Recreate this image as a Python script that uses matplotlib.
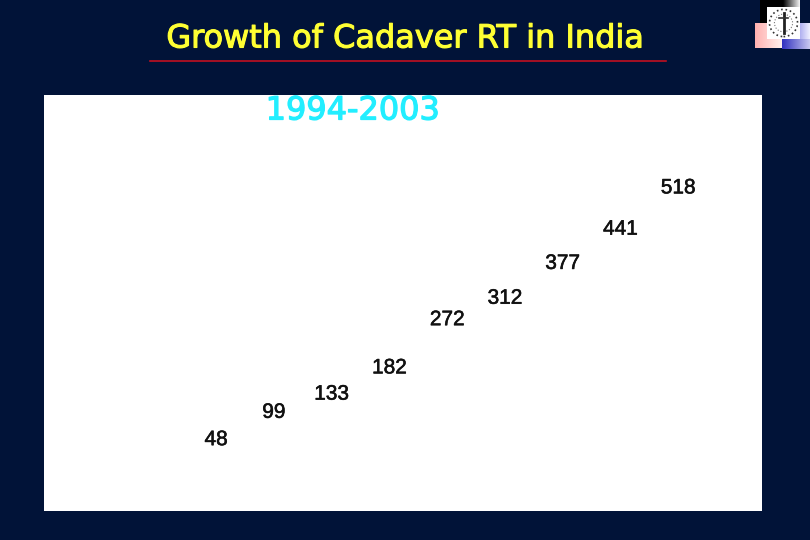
import numpy as np
import matplotlib
matplotlib.use('Agg')
import matplotlib.pyplot as plt
import matplotlib.patheffects as pe
from matplotlib.lines import Line2D
from matplotlib.patches import Circle

positions = [0, 1, 2, 3, 4, 5, 6, 7, 8]
values = [48, 99, 133, 182, 272, 312, 377, 441, 518]
title = 'Growth of Cadaver RT in India'
subtitle = '1994-2003'

W, H = 810, 540
navy = '#011338'


def box(x0, y0, x1, y1):
    # pixel box (top-left origin) to figure fractions
    return [x0 / W, 1 - y1 / H, (x1 - x0) / W, (y1 - y0) / H]


def gradient(x0, y0, x1, y1, left, right):
    ax = fig.add_axes(box(x0, y0, x1, y1))
    c = np.linspace(matplotlib.colors.to_rgb(left), matplotlib.colors.to_rgb(right), 64)
    ax.imshow(c[np.newaxis, :, :], aspect='auto')
    ax.axis('off')


fig = plt.figure(figsize=(8.1, 5.4), dpi=100, facecolor=navy)

# the white panel holding the value labels
ax = fig.add_axes(box(44, 95, 762, 511))
ax.set_facecolor('white')
ax.set_xlim(-2.98, 9.45)
ax.set_ylim(-85.2, 691.4)
ax.set_xticks([])
ax.set_yticks([])
for s in ax.spines.values():
    s.set_visible(False)
for p, v in zip(positions, values):
    t = ax.text(p, v, str(v), ha='center', va='center', color='#111111',
                family='Liberation Sans', fontsize=15)
    t.set_path_effects([pe.withStroke(linewidth=0.4, foreground='#111111')])

t = fig.text(405 / W, 1 - 39 / H, title, ha='center', va='center', color='#ffff33',
             family='DejaVu Sans', fontsize=23)
t.set_path_effects([pe.withStroke(linewidth=0.8, foreground='#ffff33')])
t = fig.text(353 / W, 1 - 111 / H, subtitle, ha='center', va='center', color='#22eeff',
             family='DejaVu Sans', fontsize=23)
t.set_path_effects([pe.withStroke(linewidth=0.9, foreground='#22eeff')])
fig.add_artist(Line2D([150 / W, 666 / W], [1 - 60.5 / H, 1 - 60.5 / H], color='#c01020', lw=1.2))

# logo in the top right corner
gradient(760, 0, 783, 7, '#000000', '#000000')
gradient(783, 0, 800, 7, '#000000', '#f4f4f4')
gradient(760, 7, 767, 23, '#000000', '#000000')
gradient(755, 23, 783, 48, '#ffb0b0', '#fff4f0')
gradient(782, 39, 810, 49, '#3030c0', '#c8c8f0')
gradient(800, 23, 810, 39, '#b0b0f0', '#f0f0ff')
logo = fig.add_axes(box(767, 7, 800, 39))
logo.set_facecolor('white')
logo.set_xlim(-1, 1)
logo.set_ylim(-1, 1)
logo.set_xticks([])
logo.set_yticks([])
for s in logo.spines.values():
    s.set_visible(False)
logo.add_patch(Circle((0, 0), 0.85, fill=False, ec='#333333', lw=1.2, ls=':'))
logo.add_patch(Circle((0, 0), 0.55, fill=False, ec='#777777', lw=0.8, ls=':'))
logo.plot([0, 0], [-0.6, 0.6], color='#222222', lw=2)
logo.plot([-0.3, 0.3], [0.3, 0.3], color='#333333', lw=1.2)

fig.savefig('out.png', dpi=100, facecolor=navy)
